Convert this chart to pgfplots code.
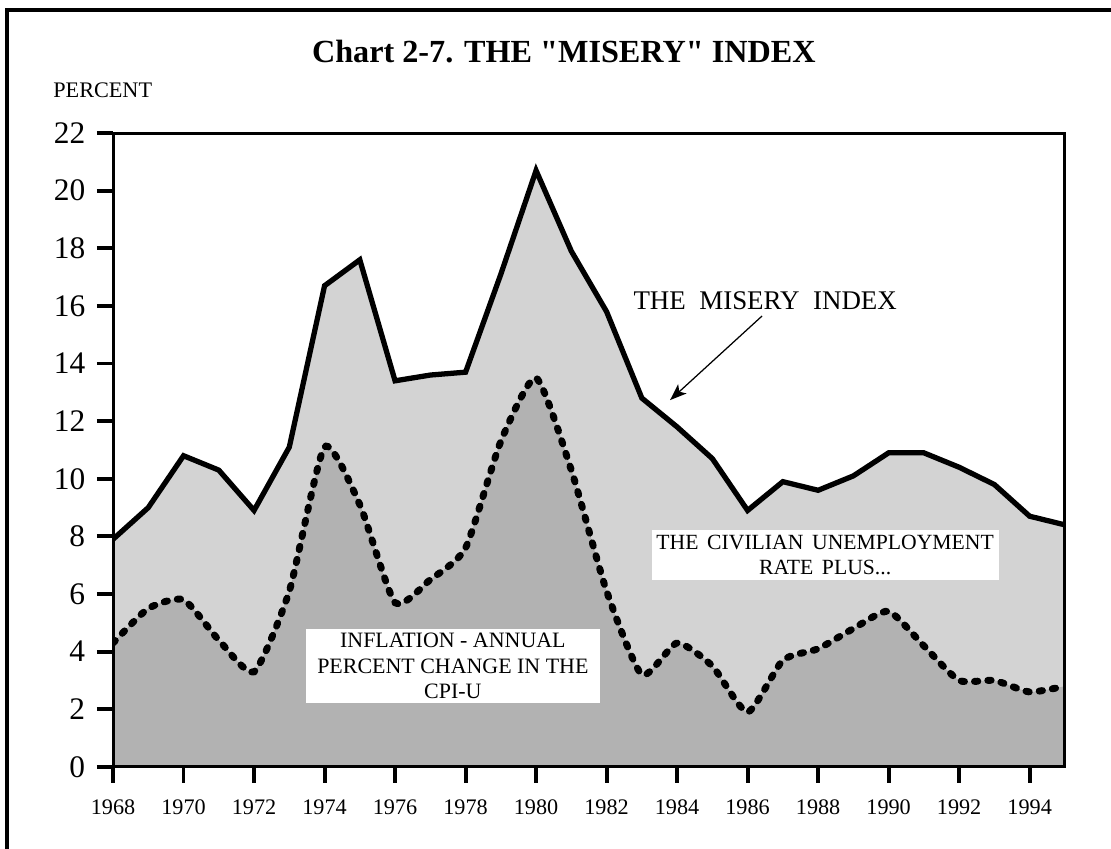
\documentclass[border=0pt]{standalone}
\usepackage{pgfplots}
\pgfplotsset{compat=1.18}
\usetikzlibrary{arrows.meta}
\usepackage{fontspec}
\setmainfont{Liberation Serif}[Ligatures=TeXOff]
\definecolor{lightfill}{RGB}{211,211,211}
\definecolor{darkfill}{RGB}{178,178,178}
\begin{document}
\begin{tikzpicture}
\begin{axis}[
  at={(40.7pt,29.5pt)}, anchor=south west,
  scale only axis, width=342.7pt, height=228.2pt,
  xmin=1968, xmax=1995, ymin=0, ymax=22,
  xtick={1968,1970,...,1994}, ytick={0,2,...,22},
  xtick pos=bottom, ytick pos=left,
  /pgf/number format/1000 sep={},
  /pgf/number format/assume math mode=true,
  tick align=outside, major tick length=5.8pt,
  tick style={black, line width=1.4pt},
  major tick style={black, line width=1.4pt},
  every major tick/.append style={black, line width=1.4pt},
  axis line style={line width=1.1pt},
  tick label style={black},
  yticklabel style={font=\fontsize{11.3}{12}\selectfont, xshift=-0.7pt},
  xticklabel style={font=\fontsize{8}{10}\selectfont, yshift=-2.5pt},
  axis on top,
  clip=true,
]
% misery index area
\addplot[draw=none, fill=lightfill] coordinates {
(1968,7.9)(1969,9.0)(1970,10.8)(1971,10.3)(1972,8.9)(1973,11.1)(1974,16.7)(1975,17.6)
(1976,13.4)(1977,13.6)(1978,13.7)(1979,17.1)(1980,20.7)(1981,17.9)(1982,15.8)(1983,12.8)
(1984,11.8)(1985,10.7)(1986,8.9)(1987,9.9)(1988,9.6)(1989,10.1)(1990,10.9)(1991,10.9)
(1992,10.4)(1993,9.8)(1994,8.7)(1995,8.4)} \closedcycle;
% inflation area
\addplot[draw=none, fill=darkfill, smooth, tension=0.35] coordinates {
(1968,4.3)(1969,5.5)(1970,5.8)(1971,4.4)(1972,3.3)(1973,6.1)(1974,11.1)(1975,9.1)
(1976,5.7)(1977,6.5)(1978,7.6)(1979,11.3)(1980,13.5)(1981,10.3)(1982,6.1)(1983,3.2)
(1984,4.3)(1985,3.5)(1986,1.9)(1987,3.7)(1988,4.1)(1989,4.8)(1990,5.4)(1991,4.2)
(1992,3.0)(1993,3.0)(1994,2.6)(1995,2.8)} \closedcycle;
% inflation line
\addplot[black, line width=2.5pt, line cap=round, dash pattern=on 1.2pt off 3.6pt, smooth, tension=0.35] coordinates {
(1968,4.3)(1969,5.5)(1970,5.8)(1971,4.4)(1972,3.3)(1973,6.1)(1974,11.1)(1975,9.1)
(1976,5.7)(1977,6.5)(1978,7.6)(1979,11.3)(1980,13.5)(1981,10.3)(1982,6.1)(1983,3.2)
(1984,4.3)(1985,3.5)(1986,1.9)(1987,3.7)(1988,4.1)(1989,4.8)(1990,5.4)(1991,4.2)
(1992,3.0)(1993,3.0)(1994,2.6)(1995,2.8)};
% misery line
\addplot[black, line width=1.9pt, line join=miter] coordinates {
(1968,7.9)(1969,9.0)(1970,10.8)(1971,10.3)(1972,8.9)(1973,11.1)(1974,16.7)(1975,17.6)
(1976,13.4)(1977,13.6)(1978,13.7)(1979,17.1)(1980,20.7)(1981,17.9)(1982,15.8)(1983,12.8)
(1984,11.8)(1985,10.7)(1986,8.9)(1987,9.9)(1988,9.6)(1989,10.1)(1990,10.9)(1991,10.9)
(1992,10.4)(1993,9.8)(1994,8.7)(1995,8.4)};
\node[font=\fontsize{9.7}{11}\selectfont] at (axis cs:1986.5,16.17) {THE\hspace{0.5em}MISERY\hspace{0.5em}INDEX};
\draw[-{Stealth[length=6pt,width=4.5pt,inset=1.5pt]}, line width=0.45pt] (axis cs:1986.41,15.65) -- (axis cs:1983.8,12.73);
\node[fill=white, minimum width=125pt, minimum height=18pt, inner sep=0pt, align=center, font=\fontsize{7.8}{9.2}\selectfont] at (axis cs:1988.2,7.36) {THE\hspace{0.4em}CIVILIAN\hspace{0.4em}UNEMPLOYMENT\\RATE\hspace{0.4em}PLUS...};
\node[fill=white, minimum width=105.8pt, minimum height=26.6pt, inner sep=0pt, align=center, font=\fontsize{7.9}{9.1}\selectfont] at (axis cs:1977.64,3.5) {INFLATION - ANNUAL\\PERCENT CHANGE IN THE\\CPI-U};
\end{axis}
\node[font=\fontsize{11.6}{13}\selectfont\bfseries] at (203pt,287pt) {Chart 2-7. THE "MISERY" INDEX};
\node[font=\fontsize{8}{10}\selectfont, anchor=west, inner sep=0pt] at (19pt,273.2pt) {PERCENT};
\draw[line width=1.4pt] (2.5pt,-20pt) -- (2.5pt,302pt) -- (420pt,302pt);
\pgfresetboundingbox
\path[use as bounding box] (0,0) rectangle (400pt,305.6pt);
\end{tikzpicture}
\end{document}
